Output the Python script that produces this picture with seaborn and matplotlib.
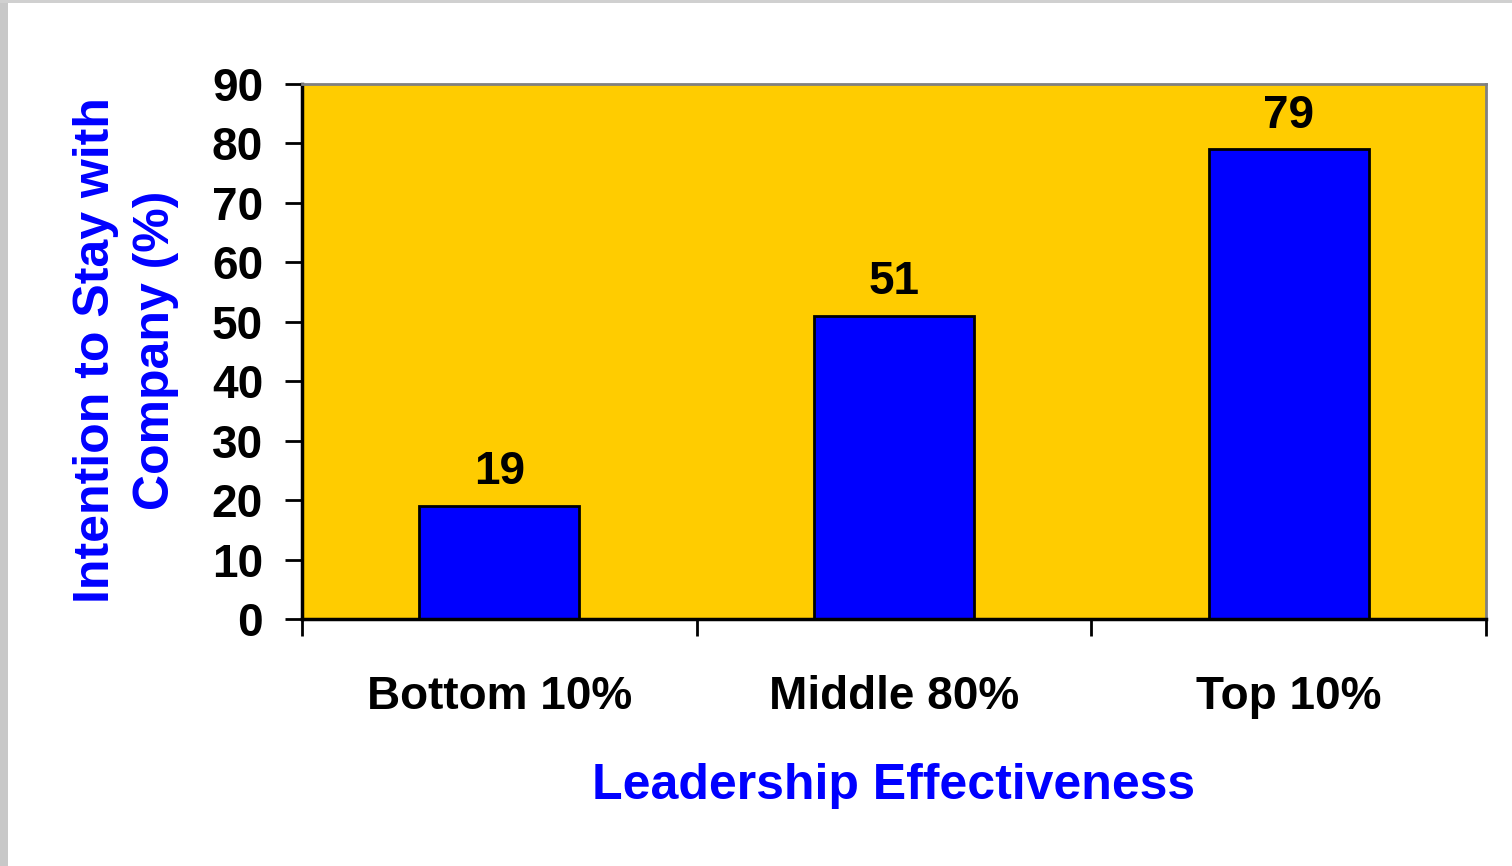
import matplotlib
matplotlib.use("Agg")
import matplotlib.pyplot as plt
import seaborn as sns
import pandas as pd
from matplotlib.patches import Rectangle

categories = ["Bottom 10%", "Middle 80%", "Top 10%"]
values = [19, 51, 79]
y_ticks = [0, 10, 20, 30, 40, 50, 60, 70, 80, 90]
x_title = "Leadership Effectiveness"
y_title = "Intention to Stay with\nCompany (%)"

df = pd.DataFrame({"group": categories, "pct": values})

sns.set_theme(style="white")
plt.rcParams["font.family"] = ["Liberation Sans", "DejaVu Sans"]
plt.rcParams["font.weight"] = "bold"

fig = plt.figure(figsize=(15.12, 8.66), dpi=100)
fig.patch.set_facecolor("white")
# light grey frame strips along the left and top edges of the canvas
fig.add_artist(Rectangle((0, 0), 8 / 1512, 1, transform=fig.transFigure,
                         facecolor="#c8c8c8", edgecolor="none", zorder=0))
fig.add_artist(Rectangle((0, 1 - 3 / 866), 1, 3 / 866, transform=fig.transFigure,
                         facecolor="#d0d0d0", edgecolor="none", zorder=0))

ax = fig.add_axes([302 / 1512, 1 - 619 / 866, (1486 - 302) / 1512, (619 - 84) / 866])
ax.set_facecolor("#FFCC00")

sns.barplot(data=df, x="group", y="pct", color="#0000FF", saturation=1,
            width=0.405, edgecolor="black", linewidth=2, ax=ax)

for i, v in enumerate(values):
    ax.text(i, v + 2.0, f"{v}", ha="center", va="bottom",
            fontsize=33, fontweight="bold", color="black")

ax.set_ylim(0, 90)
ax.set_xlim(-0.5, 2.5)
ax.set_yticks(y_ticks)
ax.set_yticklabels([str(t) for t in y_ticks], fontsize=33, fontweight="bold",
                   color="black")

# category labels without marks; marks sit on category boundaries
ax.set_xticks(range(len(categories)))
ax.set_xticklabels(categories, fontsize=33, fontweight="bold", color="black")
ax.set_xticks([-0.5, 0.5, 1.5, 2.5], minor=True)
ax.tick_params(axis="x", which="major", length=0, pad=40)
ax.tick_params(axis="x", which="minor", length=12, width=2, color="black",
               direction="out", bottom=True)
ax.tick_params(axis="y", which="major", length=12, width=2, color="black",
               direction="out", left=True, pad=16)

ax.set_xlabel(x_title, fontsize=36, fontweight="bold", color="#0000FF")
ax.xaxis.label.set_verticalalignment("center")
ax.xaxis.set_label_coords(0.5, (619 - 786) / 535)

ax.set_ylabel(y_title, fontsize=36, fontweight="bold", color="#0000FF",
              linespacing=1.4)
ax.yaxis.label.set_verticalalignment("center")
ax.yaxis.set_label_coords((126 - 302) / 1184, (619 - 350) / 535)

for side in ["left", "bottom"]:
    ax.spines[side].set_color("black")
    ax.spines[side].set_linewidth(2.5)
for side in ["top", "right"]:
    ax.spines[side].set_color("#808080")
    ax.spines[side].set_linewidth(2)
for s in ax.spines.values():
    s.set_visible(True)
ax.grid(False)

fig.savefig("out.png", dpi=100, facecolor="white")
